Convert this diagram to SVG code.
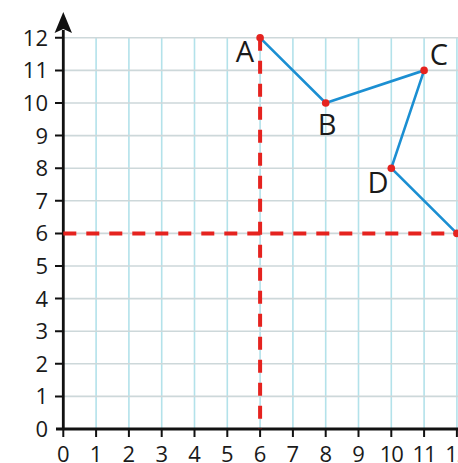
<svg xmlns="http://www.w3.org/2000/svg" width="458" height="463" viewBox="0 0 458 463">
<style>
.gv{stroke:#b3e2ea;stroke-width:1.6}
.gh{stroke:#cdd8da;stroke-width:1.6}
.ax{stroke:#111;stroke-width:2.8;fill:none}
.tk{stroke:#111;stroke-width:2}
.num{font-family:"Open Sans","DejaVu Sans",sans-serif;font-size:22px;fill:#1a1a1a}
.lbl{font-family:"Open Sans","DejaVu Sans",sans-serif;font-size:29px;fill:#1a1a1a}
.dash{stroke:#e5231f;stroke-width:4;stroke-dasharray:13 10;fill:none}
.seg{stroke:#1b8fd2;stroke-width:2.6;fill:none;stroke-linecap:round}
.pt{fill:#e5231f}
</style>
<rect width="458" height="463" fill="#fff"/>
<g id="grid">
<path class="gv" d="M96.1 37.8V429M128.9 37.8V429M161.7 37.8V429M194.5 37.8V429M227.3 37.8V429M260.1 37.8V429M292.9 37.8V429M325.7 37.8V429M358.5 37.8V429M391.3 37.8V429M424.1 37.8V429M456.9 37.8V429"/>
<path class="gh" d="M63.3 396.4H458M63.3 363.8H458M63.3 331.2H458M63.3 298.6H458M63.3 266H458M63.3 233.4H458M63.3 200.8H458M63.3 168.2H458M63.3 135.6H458M63.3 103H458M63.3 70.4H458M63.3 37.8H458"/>
</g>
<g id="axes">
<path class="ax" d="M63.3 429V30M56 429H458"/>
<path d="M63.3 12 L72 33 L63.3 29 L54.6 33 Z" fill="#111"/>
<path class="tk" d="M55 396.4H63.3M55 363.8H63.3M55 331.2H63.3M55 298.6H63.3M55 266H63.3M55 233.4H63.3M55 200.8H63.3M55 168.2H63.3M55 135.6H63.3M55 103H63.3M55 70.4H63.3M55 37.8H63.3"/>
<path class="tk" d="M63.3 429V437M96.1 429V437M128.9 429V437M161.7 429V437M194.5 429V437M227.3 429V437M260.1 429V437M292.9 429V437M325.7 429V437M358.5 429V437M391.3 429V437M424.1 429V437M456.9 429V437"/>
<g class="num" text-anchor="end">
<text x="48" y="437">0</text><text x="48" y="404.4">1</text><text x="48" y="371.8">2</text><text x="48" y="339.2">3</text><text x="48" y="306.6">4</text><text x="48" y="274">5</text><text x="48" y="241.4">6</text><text x="48" y="208.8">7</text><text x="48" y="176.2">8</text><text x="48" y="143.6">9</text><text x="48" y="111">10</text><text x="48" y="78.4">11</text><text x="48" y="45.8">12</text>
</g>
<g class="num" text-anchor="middle">
<text x="63.3" y="462">0</text><text x="96.1" y="462">1</text><text x="128.9" y="462">2</text><text x="161.7" y="462">3</text><text x="194.5" y="462">4</text><text x="227.3" y="462">5</text><text x="260.1" y="462">6</text><text x="292.9" y="462">7</text><text x="325.7" y="462">8</text><text x="358.5" y="462">9</text><text x="391.3" y="462" letter-spacing="-1">10</text><text x="424.1" y="462" letter-spacing="-1">11</text><text x="456.9" y="462" letter-spacing="-1">12</text>
</g>
</g>
<g id="dashed-lines">
<path class="dash" d="M260.1 37.8V429"/>
<path class="dash" d="M63.3 233.4H458"/>
</g>
<g id="connectors">
<polyline class="seg" points="260.1,37.8 325.7,103 424.1,70.4 391.3,168.2 456.9,233.4"/>
</g>
<g id="A"><circle class="pt" cx="260.1" cy="37.8" r="3.8"/><text class="lbl" x="245" y="62" text-anchor="middle">A</text></g>
<g id="B"><circle class="pt" cx="325.7" cy="103" r="3.8"/><text class="lbl" x="327" y="135" text-anchor="middle">B</text></g>
<g id="C"><circle class="pt" cx="424.1" cy="70.4" r="3.8"/><text class="lbl" x="439" y="65" text-anchor="middle">C</text></g>
<g id="D"><circle class="pt" cx="391.3" cy="168.2" r="3.8"/><text class="lbl" x="378" y="193" text-anchor="middle">D</text></g>
<g id="E"><circle class="pt" cx="456.9" cy="233.4" r="3.8"/></g>
</svg>
